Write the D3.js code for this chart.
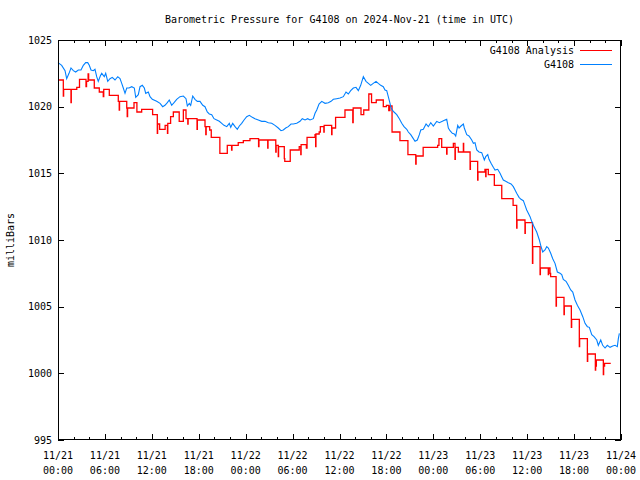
<!DOCTYPE html>
<html><head><meta charset="utf-8">
<script src="https://cdn.jsdelivr.net/npm/d3@7"></script>
<style>
body{margin:0;background:#fff}
text{font-family:"DejaVu Sans Mono","Liberation Mono",monospace;font-size:10px;fill:#000}
</style>
</head><body><svg id="c" width="640" height="480"></svg>
<script>
// ---- data (hours since 2024-11-21 00:00 UTC, pressure in mbar) ----
const blueHours=[0.00,0.47,0.90,1.11,1.41,1.66,1.96,2.26,2.60,2.94,3.24,3.54,3.80,4.00,4.22,4.51,4.73,4.95,5.15,5.41,5.59,5.92,6.10,6.36,6.65,6.94,7.29,7.64,7.93,8.15,8.35,8.57,8.79,9.08,9.43,9.76,9.94,10.27,10.49,10.78,11.04,11.22,11.55,11.77,12.06,12.62,13.05,13.39,13.68,13.98,14.23,14.54,14.84,15.18,15.60,16.03,16.37,16.54,16.79,16.97,17.23,17.52,17.82,18.16,18.51,18.80,19.09,19.35,19.66,19.95,20.30,20.63,20.94,21.23,21.58,21.91,22.09,22.34,22.64,22.93,23.19,23.49,23.79,24.13,24.47,24.85,25.19,25.62,26.05,26.47,26.90,27.33,27.75,28.17,28.52,28.81,29.12,29.45,29.80,30.09,30.53,30.95,31.24,31.59,31.93,32.23,32.65,32.87,33.09,33.38,33.73,34.15,34.57,34.92,35.21,35.64,36.07,36.49,36.83,37.13,37.43,37.77,38.11,38.41,38.71,39.05,39.39,39.69,39.99,40.32,40.67,40.96,41.27,41.60,41.82,42.04,42.24,42.46,42.55,42.68,42.97,43.32,43.65,43.96,44.25,44.60,44.80,45.11,45.44,45.66,45.95,46.21,46.39,46.72,47.07,47.36,47.67,48.00,48.43,48.77,49.15,49.49,49.71,49.92,50.13,50.43,50.68,50.86,51.12,51.29,51.54,51.84,51.96,52.27,52.56,52.91,53.12,53.33,53.55,53.84,54.19,54.52,54.70,54.96,55.12,55.38,55.67,55.89,56.23,56.53,56.74,56.95,57.26,57.59,57.94,58.23,58.45,58.66,58.96,59.21,59.51,59.73,59.94,60.15,60.37,60.58,60.79,61.22,61.56,61.73,61.99,62.28,62.50,62.71,63.01,63.27,63.56,63.86,64.20,64.42,64.62,64.97,65.26,65.57,65.83,66.12,66.42,66.76,67.11,67.40,67.70,67.95,68.26,68.55,68.90,69.10,69.41,69.66,69.96,70.25,70.60,70.94,71.24,71.53,71.66,71.79];
const bluePressure=[1023.3,1023.1,1022.7,1022.1,1022.5,1022.9,1022.7,1022.6,1022.75,1022.75,1023.1,1023.3,1023.3,1023.1,1022.75,1022.7,1022.8,1022.25,1021.9,1022.3,1022.5,1022.25,1022.5,1021.9,1022.1,1022.2,1022.0,1022.25,1022.1,1021.75,1021.4,1021.0,1021.4,1021.4,1021.5,1021.4,1020.7,1020.9,1021.5,1021.6,1021.4,1021.0,1021.1,1020.75,1020.55,1020.4,1020.25,1020.0,1020.1,1020.3,1020.5,1020.1,1020.3,1020.55,1020.75,1020.8,1020.6,1020.05,1020.25,1020.1,1020.8,1020.55,1020.4,1020.4,1020.1,1020.0,1019.6,1019.45,1019.4,1019.1,1019.0,1018.9,1018.75,1018.6,1018.5,1018.75,1018.45,1018.75,1018.5,1018.3,1018.55,1018.75,1019.0,1019.25,1019.35,1019.2,1019.1,1019.0,1018.9,1018.9,1018.8,1018.75,1018.6,1018.4,1018.2,1018.25,1018.4,1018.5,1018.7,1018.7,1018.75,1018.9,1019.1,1019.0,1019.1,1019.0,1019.1,1019.5,1019.75,1020.2,1020.4,1020.25,1020.3,1020.4,1020.55,1020.6,1020.65,1020.75,1021.1,1020.95,1021.2,1021.4,1021.45,1021.2,1021.6,1022.25,1021.9,1021.75,1021.6,1021.75,1021.9,1021.75,1021.6,1021.5,1021.25,1021.2,1020.75,1020.25,1020.0,1019.8,1019.6,1019.4,1019.1,1018.75,1018.5,1018.3,1018.1,1017.9,1017.6,1017.4,1017.5,1017.9,1018.25,1018.3,1018.7,1018.5,1018.8,1018.55,1018.9,1018.8,1018.9,1019.0,1019.05,1018.4,1018.2,1018.0,1017.95,1017.8,1018.6,1018.4,1018.55,1018.7,1018.4,1017.9,1017.8,1017.5,1017.25,1017.3,1016.75,1016.6,1016.55,1016.0,1016.25,1016.4,1016.05,1015.75,1015.45,1015.25,1015.3,1015.0,1014.75,1014.5,1014.4,1014.3,1014.2,1014.0,1013.75,1013.5,1013.2,1013.05,1012.95,1012.6,1012.25,1012.0,1011.75,1011.4,1011.1,1010.6,1010.0,1009.6,1009.1,1009.25,1009.5,1009.4,1009.0,1008.6,1008.25,1007.6,1007.5,1007.4,1007.05,1006.9,1006.6,1006.25,1006.1,1005.5,1005.1,1004.75,1004.25,1003.75,1003.5,1003.45,1002.9,1002.75,1002.5,1002.1,1002.5,1002.1,1001.9,1002.1,1001.95,1002.05,1002.1,1002.0,1002.6,1003.0];
const redHours=[0.00,0.68,0.72,1.66,1.70,2.40,2.75,3.58,3.65,3.85,3.92,4.64,5.28,5.79,5.85,6.56,7.71,7.83,7.87,8.79,8.85,8.90,9.72,10.09,10.70,12.10,12.70,12.74,13.00,13.70,14.00,14.04,14.40,14.75,15.50,16.03,16.37,16.60,16.64,17.78,17.82,18.80,18.90,18.95,19.40,19.60,20.70,21.65,22.20,22.25,23.05,23.70,24.55,25.65,25.70,26.82,26.86,27.85,27.90,28.17,28.21,28.94,29.00,29.70,30.85,31.05,31.09,31.76,31.85,32.87,32.95,32.99,33.40,33.55,34.00,34.04,35.00,35.04,35.50,36.70,37.70,37.75,38.75,39.10,39.75,40.10,40.70,41.60,42.00,42.30,42.45,42.72,43.73,44.75,45.75,45.80,46.70,48.55,48.72,49.07,49.70,49.75,50.56,50.77,50.81,51.20,51.84,51.88,52.70,52.74,53.67,53.71,54.60,54.70,54.74,55.03,55.80,56.75,58.20,58.66,58.70,59.72,59.76,60.68,60.72,61.65,61.69,62.70,62.74,62.92,63.00,63.70,63.74,64.71,64.75,65.65,65.69,66.67,66.71,67.70,67.74,68.72,68.76,68.85,69.74,69.78,69.90,70.69];
const redPressure=[1022.0,1020.8,1021.3,1020.3,1021.3,1021.45,1022.05,1021.5,1021.9,1022.45,1022.0,1021.4,1021.1,1020.75,1021.3,1020.85,1020.4,1019.75,1020.4,1019.9,1019.25,1019.9,1020.3,1019.6,1019.8,1019.4,1018.0,1018.7,1018.3,1018.6,1018.0,1018.75,1019.25,1019.6,1018.9,1019.75,1019.1,1018.7,1019.1,1018.3,1019.0,1018.5,1017.9,1018.5,1018.25,1017.7,1016.5,1017.1,1016.75,1017.1,1017.3,1017.45,1017.6,1017.0,1017.5,1016.9,1017.5,1016.6,1017.1,1016.25,1017.0,1016.1,1015.9,1016.75,1017.0,1016.4,1017.15,1016.9,1017.7,1017.9,1017.0,1017.95,1018.1,1018.5,1018.1,1018.6,1017.9,1018.4,1019.2,1019.75,1018.8,1019.9,1019.4,1019.75,1020.95,1020.3,1020.5,1020.0,1020.1,1019.7,1020.05,1018.1,1017.45,1016.4,1015.7,1016.3,1016.95,1017.1,1017.6,1016.95,1016.45,1016.95,1017.25,1016.05,1016.95,1016.6,1017.25,1016.6,1015.3,1015.9,1014.5,1015.1,1015.3,1014.75,1015.3,1014.9,1014.1,1013.1,1012.6,1010.9,1011.5,1010.5,1011.3,1008.25,1009.5,1007.4,1007.9,1007.4,1007.9,1007.5,1007.25,1005.05,1005.7,1004.4,1005.05,1003.45,1004.05,1002.0,1002.6,1000.9,1001.45,1000.25,1000.55,1001.0,999.9,1000.55,1000.75,1000.75];
const yTickValues=[995,1000,1005,1010,1015,1020,1025];
const xMajorHours=[0,6,12,18,24,30,36,42,48,54,60,66,72];
const xMinorHours=d3.range(0,73,2);
const xTickDates=["11/21","11/21","11/21","11/21","11/22","11/22","11/22","11/22","11/23","11/23","11/23","11/23","11/24"];
const xTickTimes=["00:00","06:00","12:00","18:00","00:00","06:00","12:00","18:00","00:00","06:00","12:00","18:00","00:00"];
const seriesNames=["G4108 Analysis","G4108"];
const titleText="Barometric Pressure for G4108 on 2024-Nov-21 (time in UTC)";
const yLabelText="milliBars";

// ---- drawing ----
const svg=d3.select("#c");
const L=58,R=621,T=40,B=440;
const x=d3.scaleLinear().domain([0,72]).range([L,R]);
const y=d3.scaleLinear().domain([995,1025]).range([B,T]);
const colors=["#ff0000","#0080ff"];

svg.append("rect").attr("width",640).attr("height",480).attr("fill","#fff");

function tickAxis(axis,tr){
  const g=svg.append("g").attr("transform",tr).call(axis);
  g.select(".domain").remove();
  g.selectAll("line").attr("stroke","#000").attr("shape-rendering","crispEdges");
  g.selectAll("text").remove();
  return g;
}
tickAxis(d3.axisBottom(x).tickValues(xMinorHours).tickSize(-3),`translate(0,${B})`);
tickAxis(d3.axisTop(x).tickValues(xMinorHours).tickSize(-3),`translate(0,${T})`);
tickAxis(d3.axisBottom(x).tickValues(xMajorHours).tickSize(-6),`translate(0,${B})`);
tickAxis(d3.axisTop(x).tickValues(xMajorHours).tickSize(-6),`translate(0,${T})`);
tickAxis(d3.axisLeft(y).tickValues(yTickValues).tickSize(-6),`translate(${L},0)`);
tickAxis(d3.axisRight(y).tickValues(yTickValues).tickSize(-6),`translate(${R},0)`);

svg.append("g").selectAll("text").data(yTickValues).join("text")
  .attr("x",L-6).attr("y",d=>y(d)).attr("dy","0.35em").attr("text-anchor","end").text(d=>d);
const xl=svg.append("g").selectAll("text").data(xMajorHours).join("text")
  .attr("text-anchor","middle").attr("x",d=>x(d)).attr("y",459);
xl.append("tspan").attr("x",d=>x(d)).text((d,i)=>xTickDates[i]);
xl.append("tspan").attr("x",d=>x(d)).attr("dy",15).text((d,i)=>xTickTimes[i]);

const redData=redHours.map((h,i)=>[h,redPressure[i]]);
const blueData=blueHours.map((h,i)=>[h,bluePressure[i]]);
svg.append("path").datum(redData).attr("fill","none").attr("stroke",colors[0]).attr("stroke-width",1.3)
  .attr("d",d3.line().x(d=>x(d[0])).y(d=>y(d[1])).curve(d3.curveStepAfter));
svg.append("path").datum(blueData).attr("fill","none").attr("stroke",colors[1]).attr("stroke-width",1.1)
  .attr("d",d3.line().x(d=>x(d[0])).y(d=>y(d[1])));

svg.append("rect").attr("x",L+0.5).attr("y",T+0.5).attr("width",R-L-1).attr("height",B-T-1)
  .attr("fill","none").attr("stroke","#000").attr("stroke-width",1).attr("shape-rendering","crispEdges");

svg.append("text").attr("x",(L+R)/2).attr("y",23).attr("text-anchor","middle").text(titleText);
svg.append("text").attr("transform","translate(14,240) rotate(-90)").attr("text-anchor","middle").text(yLabelText);

const lg=svg.append("g");
seriesNames.forEach((n,i)=>{
  const yy=50+i*14;
  lg.append("text").attr("x",574).attr("y",yy).attr("dy","0.35em").attr("text-anchor","end").text(n);
  lg.append("line").attr("x1",580).attr("x2",612).attr("y1",yy+0.5).attr("y2",yy+0.5)
    .attr("stroke",colors[i]).attr("stroke-width",1).attr("shape-rendering","crispEdges");
});
</script></body></html>
